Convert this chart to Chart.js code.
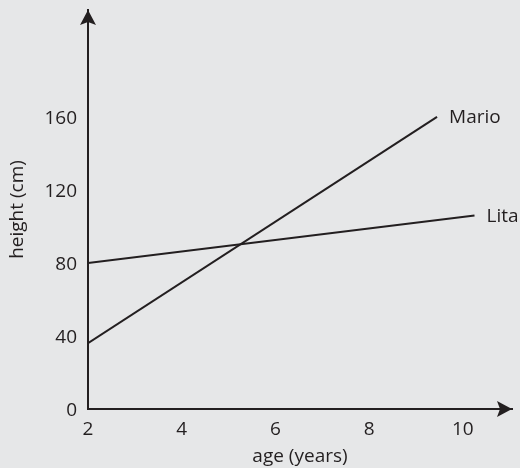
<!DOCTYPE html>
<html>
<head>
<meta charset="utf-8">
<script src="https://cdn.jsdelivr.net/npm/chart.js@4"></script>
<style>
  html, body { margin: 0; padding: 0; background: #e6e7e8; }
  #wrap { width: 520px; height: 468px; }
</style>
</head>
<body>
<div id="wrap"><canvas id="myChart" width="520" height="468"></canvas></div>
<script>
var names = ['Mario', 'Lita'];
var marioAge = [2, 9.45];
var marioHeight = [36, 160];
var litaAge = [2, 10.25];
var litaHeight = [80, 106];
var xTicks = [2, 4, 6, 8, 10];
var yTicks = [0, 40, 80, 120, 160];

var ink = '#231f20';
var fontFamily = '"Open Sans", "Noto Sans", sans-serif';

function points(xs, ys) {
  return xs.map(function (x, i) { return { x: x, y: ys[i] }; });
}

// arrow heads at the ends of both axes + line end labels
var axisExtras = {
  id: 'axisExtras',
  afterDraw: function (chart) {
    var ctx = chart.ctx;
    var area = chart.chartArea;
    var x0 = chart.scales.x.left;
    var y0 = chart.scales.y.bottom;
    ctx.save();
    ctx.fillStyle = ink;
    // up arrow
    ctx.beginPath();
    ctx.moveTo(x0, area.top);
    ctx.lineTo(x0 - 8, area.top + 15);
    ctx.lineTo(x0, area.top + 12);
    ctx.lineTo(x0 + 8, area.top + 15);
    ctx.closePath();
    ctx.fill();
    // right arrow
    ctx.beginPath();
    ctx.moveTo(area.right, y0);
    ctx.lineTo(area.right - 15, y0 - 8);
    ctx.lineTo(area.right - 12, y0);
    ctx.lineTo(area.right - 15, y0 + 8);
    ctx.closePath();
    ctx.fill();

    ctx.font = '19px ' + fontFamily;
    ctx.textBaseline = 'middle';
    ctx.textAlign = 'left';
    chart.data.datasets.forEach(function (ds, i) {
      var meta = chart.getDatasetMeta(i);
      var last = meta.data[meta.data.length - 1];
      ctx.fillText(ds.label, last.x + 12, last.y + 1);
    });
    ctx.restore();
  }
};

function noPad(s) {
  s.paddingTop = 0;
  s.paddingBottom = 0;
  s.paddingLeft = 0;
  s.paddingRight = 0;
}

var ctx = document.getElementById('myChart').getContext('2d');
var chart = new Chart(ctx, {
  type: 'scatter',
  data: {
    datasets: [
      { label: names[0], data: points(marioAge, marioHeight), showLine: true,
        borderColor: ink, backgroundColor: ink, borderWidth: 2, pointRadius: 0 },
      { label: names[1], data: points(litaAge, litaHeight), showLine: true,
        borderColor: ink, backgroundColor: ink, borderWidth: 2, pointRadius: 0 }
    ]
  },
  options: {
    responsive: false,
    animation: false,
    layout: { padding: { top: 10, right: 8, left: 0, bottom: 0 } },
    plugins: {
      colors: { enabled: false },
      legend: { display: false },
      tooltip: { enabled: false }
    },
    scales: {
      x: {
        type: 'linear',
        min: 2,
        max: 11.05,
        afterBuildTicks: function (s) { s.ticks = xTicks.map(function (v) { return { value: v }; }); },
        afterFit: function (s) { s.height = 59; noPad(s); },
        grid: { display: false, drawTicks: false },
        border: { color: ink, width: 2 },
        ticks: { color: ink, padding: 9, font: { family: fontFamily, size: 19 } },
        title: {
          display: true, text: 'age (years)', color: ink, padding: { top: 0, bottom: 0 },
          font: { family: fontFamily, size: 19 }
        }
      },
      y: {
        type: 'linear',
        min: 0,
        max: 218.5,
        afterBuildTicks: function (s) { s.ticks = yTicks.map(function (v) { return { value: v }; }); },
        afterFit: function (s) { s.width = 88; noPad(s); },
        grid: { display: false, drawTicks: false },
        border: { color: ink, width: 2 },
        ticks: { color: ink, padding: 11, labelOffset: 2, font: { family: fontFamily, size: 19 } },
        title: {
          display: true, text: 'height (cm)', color: ink, padding: { top: 6, bottom: 0 },
          font: { family: fontFamily, size: 19 }
        }
      }
    }
  },
  plugins: [axisExtras]
});
</script>
</body>
</html>
